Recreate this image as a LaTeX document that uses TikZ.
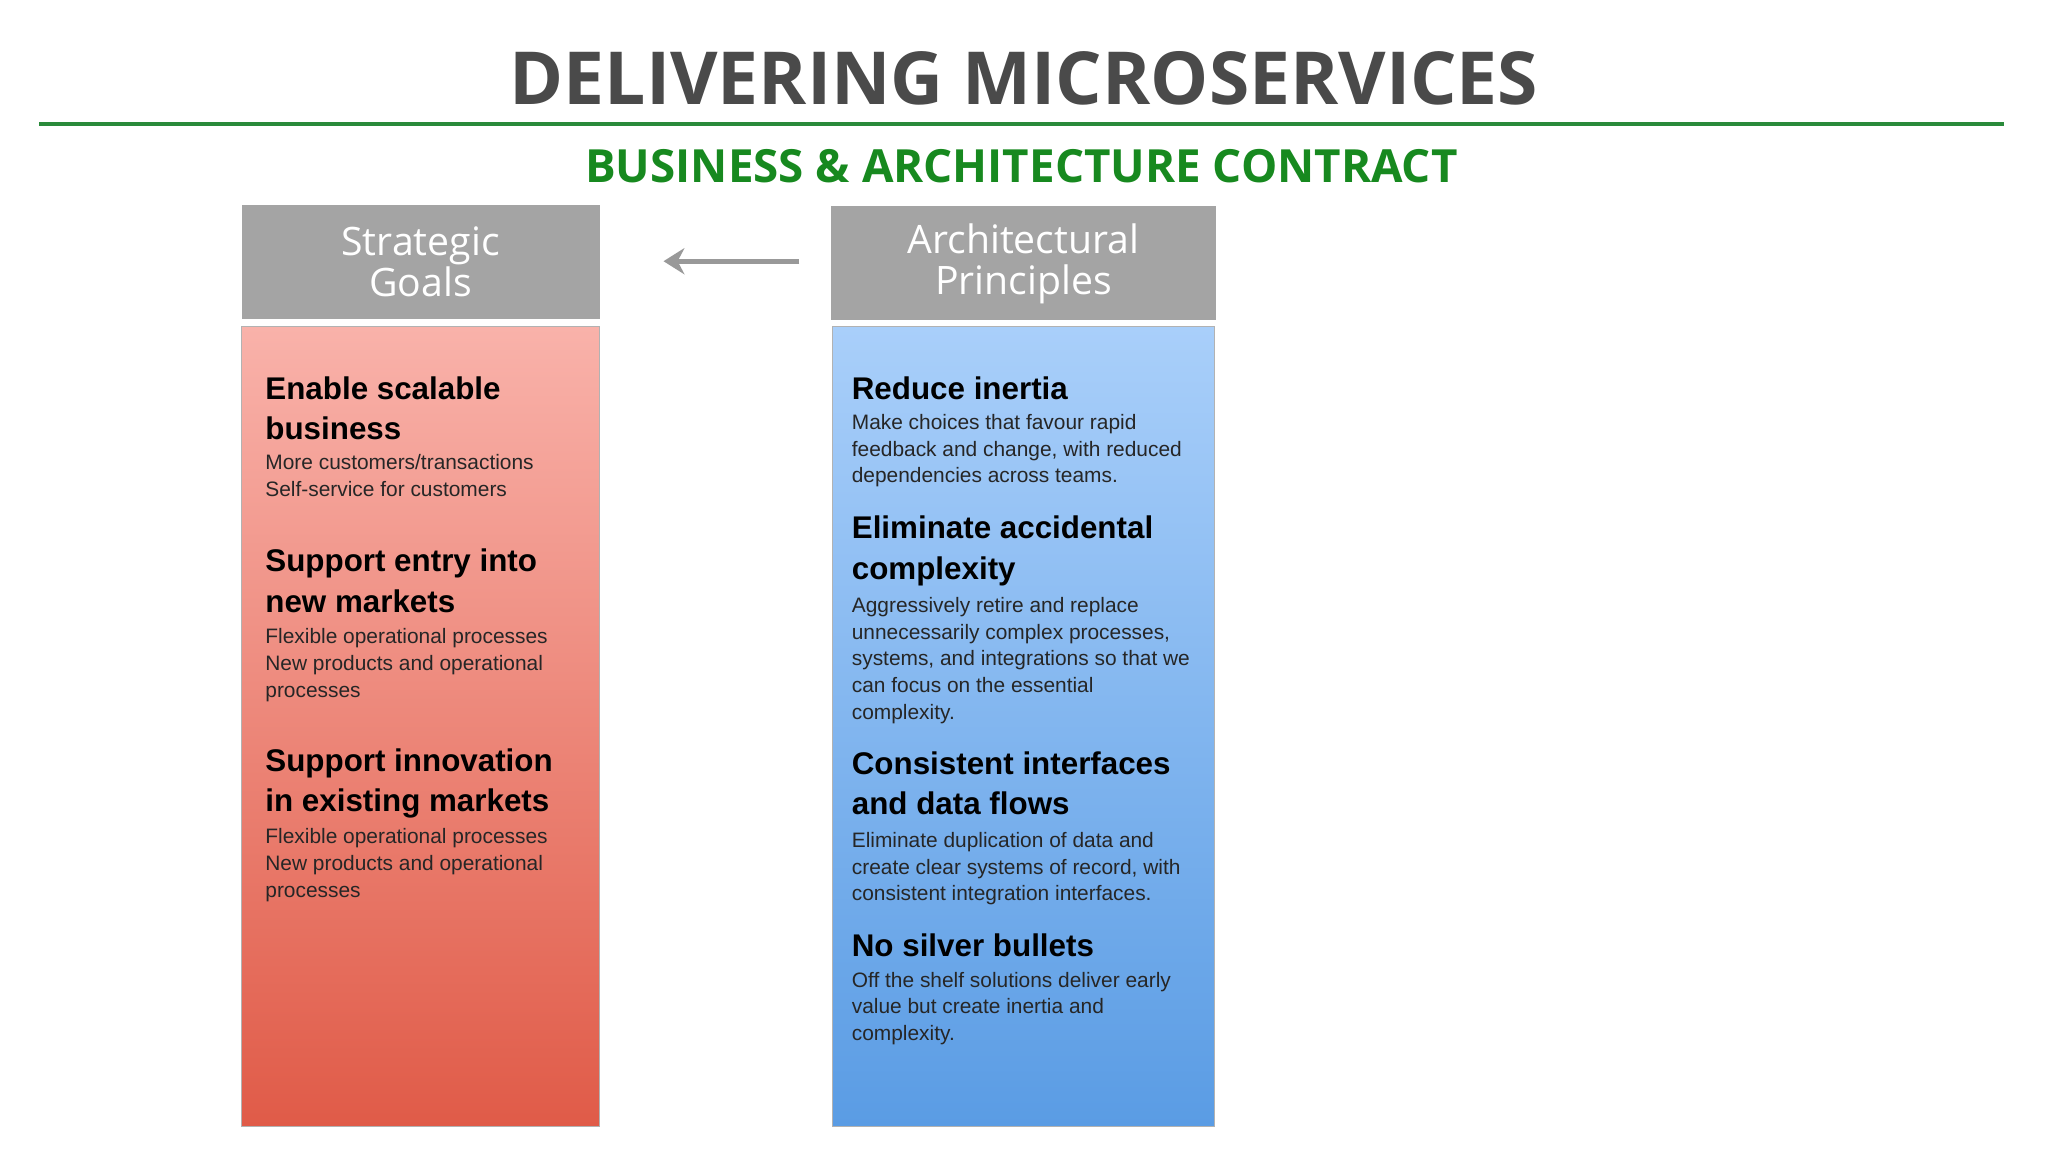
\documentclass[tikz,border=0pt]{standalone}
\usepackage{fontspec}
\setmainfont{Liberation Sans}
\newfontfamily\osans{Open Sans}
\usetikzlibrary{arrows.meta}
\definecolor{titlegray}{HTML}{4A4A4A}
\definecolor{lgreen}{HTML}{2A8A3A}
\definecolor{sgreen}{HTML}{17891F}
\definecolor{hdrgray}{HTML}{A4A4A4}
\definecolor{redtop}{HTML}{F9B2AA}
\definecolor{redbot}{HTML}{E05B48}
\definecolor{bluetop}{HTML}{A9CFFA}
\definecolor{bluebot}{HTML}{5A9CE4}
\tikzset{
  hdr/.style={fill=hdrgray,text=white,font=\osans\fontsize{30}{36}\selectfont,align=center},
  head/.style={anchor=north west,inner sep=0pt,align=left,font=\bfseries\fontsize{24}{31}\selectfont,text=black},
  body/.style={anchor=north west,inner sep=0pt,align=left,font=\fontsize{16}{20.5}\selectfont,text=black!85},
}
\begin{document}
\begin{tikzpicture}[x=1pt,y=-1pt]
\useasboundingbox (0,0) rectangle (1568,882);
\fill[white] (0,0) rectangle (1568,882);
\node[font=\osans\bfseries\fontsize{56}{60}\selectfont,text=titlegray] (title) at (784,60) {DELIVERING MICROSERVICES};
\draw[lgreen,line width=3pt] (30,95) coordinate (l1) -- (1534,95) coordinate (l2);
\node[font=\osans\bfseries\fontsize{35}{40}\selectfont,text=sgreen] (sub) at (782,127) {BUSINESS \& ARCHITECTURE CONTRACT};
% header boxes
\fill[hdrgray] (185,157) rectangle (459,244);
\node[hdr,fill=none] (sg) at (322,200.5) {Strategic\\[-4pt]Goals};
\fill[hdrgray] (636,158) rectangle (931,245);
\node[hdr,fill=none] (ap) at (783.5,202) {Architectural\\[-4pt]Principles};
\coordinate (as) at (612,200);
\coordinate (ae) at (508,200);
\draw[gray!80,line width=4pt,-{Stealth[length=16pt,width=20pt]}] (as) -- (ae);
% columns
\shade[top color=redtop,bottom color=redbot,draw=gray!60] (185,250) rectangle (459,862);
\shade[top color=bluetop,bottom color=bluebot,draw=gray!60] (637,250) rectangle (930,862);
% left texts
\node[head] (h1) at (203,288) {Enable scalable\\business};
\node[body] (b1) at (203,348) {More customers/transactions\\Self-service for customers};
\node[head] (h2) at (203,420) {Support entry into\\new markets};
\node[body] (b2) at (203,481) {Flexible operational processes\\New products and operational\\processes};
\node[head] (h3) at (203,573) {Support innovation\\in existing markets};
\node[body] (b3) at (203,634) {Flexible operational processes\\New products and operational\\processes};
% right texts
\begin{scope}
\clip (637,250) rectangle (921,862);
\node[head] (r1) at (652,288) {Reduce inertia};
\node[body] (rb1) at (652,317) {Make choices that favour rapid\\feedback and change, with reduced\\dependencies across teams.};
\node[head] (r2) at (652,395) {Eliminate accidental\\complexity};
\node[body] (rb2) at (652,457) {Aggressively retire and replace\\unnecessarily complex processes,\\systems, and integrations so that we\\can focus on the essential\\complexity.};
\node[head] (r3) at (652,575) {Consistent interfaces\\and data flows};
\node[body] (rb3) at (652,637) {Eliminate duplication of data and\\create clear systems of record, with\\consistent integration interfaces.};
\node[head] (r4) at (652,715) {No silver bullets};
\node[body] (rb4) at (652,744) {Off the shelf solutions deliver early\\value but create inertia and\\complexity.};
\end{scope}
\end{tikzpicture}
\end{document}
